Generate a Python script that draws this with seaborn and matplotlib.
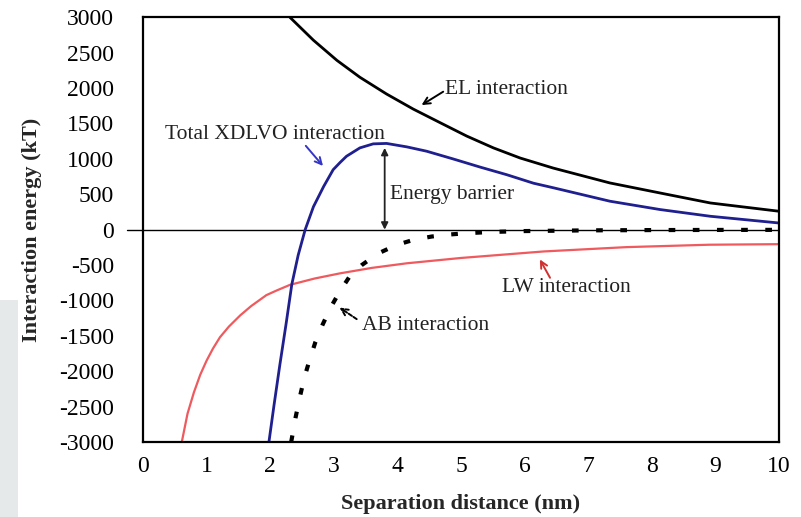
import matplotlib
matplotlib.use("Agg")
import matplotlib.pyplot as plt
import matplotlib.patches as mpatches
import seaborn as sns

# Interaction energy (kT) versus separation distance (nm)
el_x = [2.31, 2.68, 3.05, 3.41, 3.83, 4.25, 4.67, 5.09, 5.51, 5.93, 6.45, 7.34, 8.13, 8.92, 10.0]
el_y = [3000, 2676, 2391, 2153, 1916, 1703, 1512, 1322, 1155, 1012, 870, 660, 518, 377, 260]

xdlvo_x = [1.98, 2.06, 2.15, 2.25, 2.34, 2.44, 2.55, 2.68, 2.84, 2.99, 3.1, 3.2, 3.41, 3.62,
           3.83, 4.15, 4.46, 4.88, 5.30, 5.72, 6.14, 6.45, 7.34, 8.13, 8.92, 10.0]
xdlvo_y = [-3000, -2480, -1920, -1330, -772, -360, 0, 324, 609, 847, 950, 1037, 1155, 1212,
           1218, 1169, 1108, 998, 884, 776, 656, 592, 402, 284, 189, 94]

ab_x = [2.33, 2.40, 2.47, 2.54, 2.62, 2.71, 2.82, 2.95, 3.09, 3.25, 3.44, 3.70,
        3.99, 4.25, 4.54, 4.80, 5.09, 5.5, 6.0, 7.0, 8.0, 9.0, 10.0]
ab_y = [-3000, -2650, -2350, -2080, -1840, -1590, -1350, -1100, -880, -660, -500, -335,
        -215, -145, -97, -70, -50, -32, -20, -10, -6, -4, -3]

lw_x = [0.61, 0.7, 0.8, 0.9, 1.0, 1.1, 1.21, 1.35, 1.53, 1.7, 1.94, 2.1, 2.31, 2.7, 3.1,
        3.6, 4.15, 5.0, 6.3, 7.6, 8.9, 10.0]
lw_y = [-3000, -2600, -2300, -2050, -1850, -1680, -1520, -1370, -1210, -1080, -925, -860,
        -780, -690, -617, -540, -475, -400, -308, -247, -213, -205]

barrier_x = 3.80
barrier_top = 1155

x_ticks = list(range(0, 11))
y_ticks = list(range(-3000, 3001, 500))

sns.set_theme(style="white")
plt.rcParams["font.family"] = ["Liberation Serif", "DejaVu Serif"]
plt.rcParams["axes.unicode_minus"] = False

fig = plt.figure(figsize=(8.01, 5.17), dpi=100)
fig.patch.set_facecolor("white")
# pale panel at the lower left of the canvas
fig.patches.append(mpatches.Rectangle((0, 0), 18 / 801, 217 / 517, transform=fig.transFigure,
                                      facecolor="#e6e9e9", edgecolor="none", zorder=0))
ax = fig.add_axes([143 / 801, 1 - 442 / 517, 636 / 801, (442 - 17.3) / 517])

ax.axhline(0, color="black", lw=1.0, zorder=1)
ax.plot([-0.25, 0], [0, 0], color="black", lw=1.0, clip_on=False)

sns.lineplot(x=lw_x, y=lw_y, ax=ax, color="#ee5a5e", lw=1.6, estimator=None, sort=False)
sns.lineplot(x=ab_x, y=ab_y, ax=ax, color="black", lw=3.0, estimator=None, sort=False,
             linestyle=(0, (1.6, 4.2)))
sns.lineplot(x=el_x, y=el_y, ax=ax, color="black", lw=2.0, estimator=None, sort=False)
sns.lineplot(x=xdlvo_x, y=xdlvo_y, ax=ax, color="#1f1f8f", lw=2.0, estimator=None, sort=False)

ax.set_xlim(0, 10)
ax.set_ylim(-3000, 3000)
ax.set_xticks(x_ticks)
ax.set_yticks(y_ticks)
ax.set_xticks([v + 0.5 for v in x_ticks[:-1]], minor=True)
ax.set_yticks([v + 250 for v in y_ticks[:-1]], minor=True)
ax.tick_params(axis="both", which="both", direction="in", length=5, width=1.3,
               colors="black", labelsize=17, top=False, right=False)
ax.tick_params(axis="x", which="major", pad=10)
ax.tick_params(axis="y", which="major", pad=21)
for s in ax.spines.values():
    s.set_color("black")
    s.set_linewidth(1.6)

ax.set_xlabel("Separation distance (nm)", fontsize=16, fontweight="bold", labelpad=12)
ax.set_ylabel("Interaction energy (kT)", fontsize=16, fontweight="bold", labelpad=12)

txt = dict(fontsize=15.5, va="center", ha="left", color="#222222")
ax.text(4.75, 1980, "EL interaction", **txt)
ax.text(0.35, 1340, "Total XDLVO interaction", **txt)
ax.text(3.88, 502, "Energy barrier", **txt)
ax.text(3.44, -1359, "AB interaction", **txt)
ax.text(5.64, -824, "LW interaction", **txt)

arrow = dict(arrowstyle="->", lw=1.4, shrinkA=0, shrinkB=0, mutation_scale=12)
ax.annotate("", xy=(4.38, 1760), xytext=(4.72, 1949), arrowprops=dict(color="black", **arrow))
ax.annotate("", xy=(2.83, 900), xytext=(2.56, 1184), arrowprops=dict(color="#3535c8", **arrow))
ax.annotate("", xy=(3.09, -1101), xytext=(3.36, -1264),
            arrowprops=dict(color="black", linestyle=(0, (2, 1)), **arrow))
ax.annotate("", xy=(6.24, -421), xytext=(6.40, -680), arrowprops=dict(color="#d03030", **arrow))
ax.annotate("", xy=(barrier_x, barrier_top), xytext=(barrier_x, 0),
            arrowprops=dict(arrowstyle="<|-|>", lw=1.3, color="#222222", shrinkA=0, shrinkB=0,
                            mutation_scale=10))

fig.savefig("out.png", dpi=100)
